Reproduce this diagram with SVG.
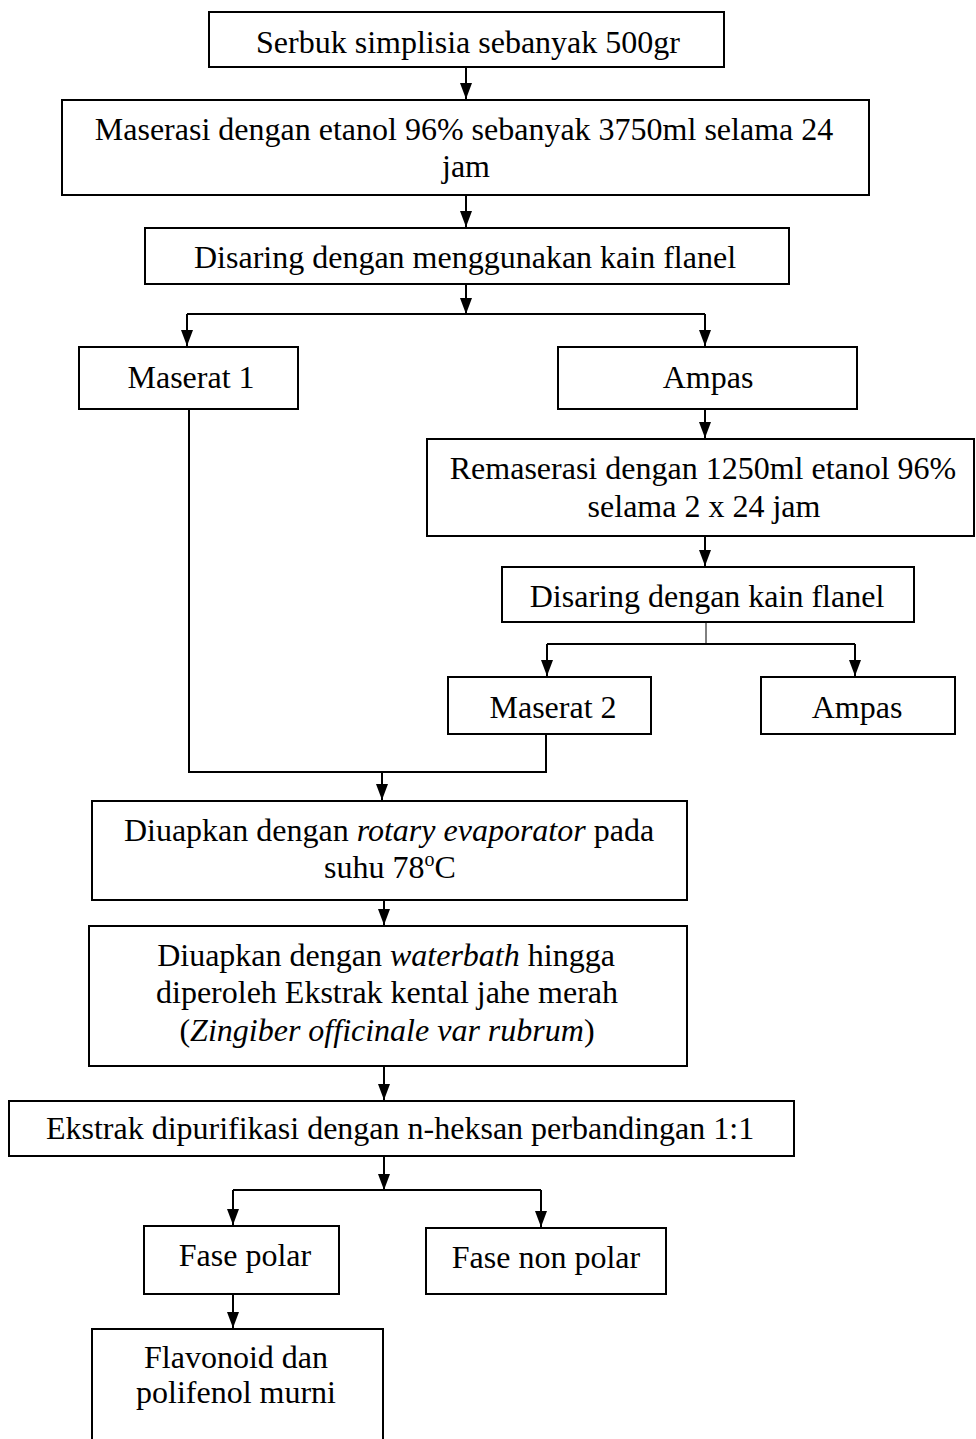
<svg xmlns="http://www.w3.org/2000/svg" width="976" height="1439" viewBox="0 0 976 1439">
<style>
rect{fill:#fff;stroke:#000;stroke-width:2}
text{font-family:"Liberation Serif","Times New Roman",serif;font-size:32px;fill:#000;text-anchor:middle}
.c{fill:none;stroke:#000;stroke-width:2}
.t{fill:none;stroke:#000;stroke-width:1}
.i{font-style:italic}
</style>
<defs>
<marker id="a" viewBox="0 0 16 12" refX="16" refY="6" markerWidth="16" markerHeight="12" orient="auto" markerUnits="userSpaceOnUse">
<path d="M0,0 L16,6 L0,12 z" fill="#000"/>
</marker>
</defs>
<rect x="0" y="0" width="976" height="1439" style="stroke:none"/>
<g id="connectors">
<path class="c" d="M466,67 V99" marker-end="url(#a)"/>
<path class="c" d="M466,195 V227" marker-end="url(#a)"/>
<path class="c" d="M466,284 V314" marker-end="url(#a)"/>
<path class="c" d="M187,314 H705"/>
<path class="c" d="M187,314 V346" marker-end="url(#a)"/>
<path class="c" d="M705,314 V346" marker-end="url(#a)"/>
<path class="c" d="M705,409 V438" marker-end="url(#a)"/>
<path class="c" d="M705,536 V566" marker-end="url(#a)"/>
<path class="t" d="M706,622 V644"/>
<path class="c" d="M547,644 H855"/>
<path class="c" d="M547,644 V676" marker-end="url(#a)"/>
<path class="c" d="M855,644 V676" marker-end="url(#a)"/>
<path class="c" d="M189,409 V772 H546 V734"/>
<path class="c" d="M382,772 V800" marker-end="url(#a)"/>
<path class="c" d="M384,900 V925" marker-end="url(#a)"/>
<path class="c" d="M384,1066 V1100" marker-end="url(#a)"/>
<path class="c" d="M384,1156 V1190" marker-end="url(#a)"/>
<path class="c" d="M233,1190 H541"/>
<path class="c" d="M233,1190 V1225" marker-end="url(#a)"/>
<path class="c" d="M541,1190 V1227" marker-end="url(#a)"/>
<path class="c" d="M233,1294 V1328" marker-end="url(#a)"/>
</g>
<g id="n1"><rect x="209" y="12" width="515" height="55"/><text x="468" y="53">Serbuk simplisia sebanyak 500gr</text></g>
<g id="n2"><rect x="62" y="100" width="807" height="95"/><text x="464" y="140">Maserasi dengan etanol 96% sebanyak 3750ml selama 24</text><text x="466" y="177">jam</text></g>
<g id="n3"><rect x="145" y="228" width="644" height="56"/><text x="465" y="268">Disaring dengan menggunakan kain flanel</text></g>
<g id="n4"><rect x="79" y="347" width="219" height="62"/><text x="191" y="388">Maserat 1</text></g>
<g id="n5"><rect x="558" y="347" width="299" height="62"/><text x="708" y="388">Ampas</text></g>
<g id="n6"><rect x="427" y="439" width="547" height="97"/><text x="703" y="479">Remaserasi dengan 1250ml etanol 96%</text><text x="704" y="517">selama 2 x 24 jam</text></g>
<g id="n7"><rect x="502" y="567" width="412" height="55"/><text x="707" y="607">Disaring dengan kain flanel</text></g>
<g id="n8"><rect x="448" y="677" width="203" height="57"/><text x="553" y="718">Maserat 2</text></g>
<g id="n9"><rect x="761" y="677" width="194" height="57"/><text x="857" y="718">Ampas</text></g>
<g id="n10"><rect x="92" y="801" width="595" height="99"/><text x="389" y="841">Diuapkan dengan <tspan class="i">rotary evaporator</tspan> pada</text><text x="390" y="878">suhu 78<tspan font-size="20" dy="-12">o</tspan><tspan dy="12">C</tspan></text></g>
<g id="n11"><rect x="89" y="926" width="598" height="140"/><text x="386" y="966">Diuapkan dengan <tspan class="i">waterbath</tspan> hingga</text><text x="387" y="1003">diperoleh Ekstrak kental jahe merah</text><text x="387" y="1041">(<tspan class="i">Zingiber officinale var rubrum</tspan>)</text></g>
<g id="n12"><rect x="9" y="1101" width="785" height="55"/><text x="400" y="1139">Ekstrak dipurifikasi dengan n-heksan perbandingan 1:1</text></g>
<g id="n13"><rect x="144" y="1226" width="195" height="68"/><text x="245" y="1266">Fase polar</text></g>
<g id="n14"><rect x="426" y="1228" width="240" height="66"/><text x="546" y="1268">Fase non polar</text></g>
<g id="n15"><rect x="92" y="1329" width="291" height="130"/><text x="236" y="1368">Flavonoid dan</text><text x="236" y="1403">polifenol murni</text></g>
</svg>
